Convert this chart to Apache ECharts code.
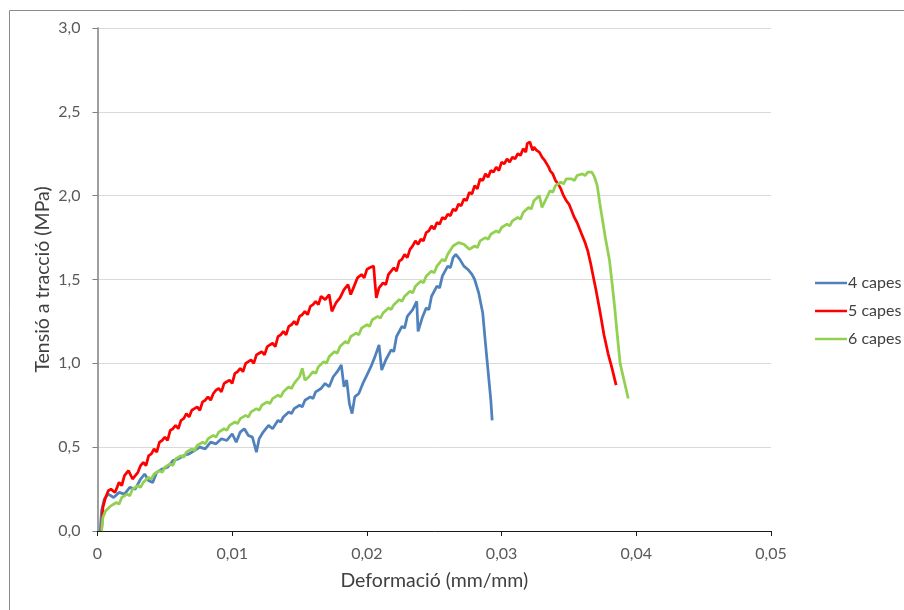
<!DOCTYPE html>
<html>
<head>
<meta charset="utf-8">
<script src="https://cdn.jsdelivr.net/npm/echarts@6/dist/echarts.min.js"></script>
<style>html,body{margin:0;padding:0;background:#fff}#c{width:904px;height:610px}</style>
</head>
<body>
<div id="c"></div>
<script>
const seriesNames = ['4 capes', '5 capes', '6 capes'];
const xTicks = [0, 0.01, 0.02, 0.03, 0.04, 0.05];
const yTicks = [0, 0.5, 1.0, 1.5, 2.0, 2.5, 3.0];

const capes4 = [[0.0002,0],[0.0003,0.12],[0.0005,0.19],[0.0008,0.22],[0.0012,0.2],[0.0016,0.23],[0.002,0.22],[0.0024,0.26],[0.0028,0.25],[0.0032,0.31],[0.0035,0.34],[0.0038,0.3],[0.0041,0.29],[0.0044,0.35],[0.0048,0.37],[0.0052,0.38],[0.0056,0.42],[0.006,0.43],[0.0064,0.45],[0.0068,0.46],[0.0072,0.48],[0.0076,0.5],[0.008,0.49],[0.0084,0.53],[0.0088,0.52],[0.0092,0.55],[0.0096,0.54],[0.01,0.58],[0.0103,0.53],[0.0106,0.59],[0.0109,0.61],[0.0112,0.57],[0.0115,0.56],[0.0118,0.47],[0.012,0.55],[0.0123,0.59],[0.0127,0.63],[0.013,0.61],[0.0134,0.66],[0.0136,0.65],[0.0138,0.68],[0.0142,0.71],[0.0144,0.7],[0.0146,0.73],[0.015,0.75],[0.0152,0.74],[0.0154,0.78],[0.0158,0.8],[0.016,0.79],[0.0162,0.83],[0.0166,0.85],[0.0169,0.88],[0.0172,0.86],[0.0175,0.92],[0.0178,0.95],[0.0181,0.99],[0.0183,0.86],[0.0185,0.9],[0.0187,0.76],[0.0189,0.7],[0.0191,0.8],[0.0194,0.82],[0.0197,0.88],[0.02,0.93],[0.0203,0.98],[0.0206,1.04],[0.0209,1.11],[0.0211,0.96],[0.0214,1.02],[0.0218,1.08],[0.022,1.07],[0.0222,1.16],[0.0226,1.22],[0.0228,1.21],[0.023,1.28],[0.0234,1.32],[0.0237,1.37],[0.0238,1.19],[0.0241,1.27],[0.0244,1.33],[0.0246,1.32],[0.0248,1.4],[0.0252,1.46],[0.0254,1.45],[0.0256,1.52],[0.026,1.58],[0.0262,1.57],[0.0264,1.63],[0.0266,1.65],[0.0269,1.62],[0.0272,1.58],[0.0275,1.56],[0.0278,1.53],[0.028,1.5],[0.0283,1.42],[0.0286,1.3],[0.0288,1.12],[0.029,0.95],[0.0292,0.78],[0.0293,0.66]];

const capes5 = [[0.0003,0],[0.0004,0.14],[0.0006,0.2],[0.0008,0.24],[0.001,0.25],[0.0013,0.23],[0.0016,0.29],[0.0018,0.27],[0.002,0.33],[0.0023,0.36],[0.0026,0.31],[0.003,0.35],[0.0032,0.39],[0.0034,0.41],[0.0036,0.39],[0.0038,0.45],[0.004,0.46],[0.0042,0.49],[0.0044,0.47],[0.0046,0.53],[0.0048,0.54],[0.005,0.56],[0.0052,0.54],[0.0054,0.6],[0.0056,0.61],[0.0058,0.63],[0.006,0.61],[0.0062,0.66],[0.0064,0.67],[0.0066,0.7],[0.0068,0.68],[0.007,0.72],[0.0072,0.73],[0.0074,0.74],[0.0076,0.72],[0.0078,0.77],[0.008,0.78],[0.0082,0.8],[0.0084,0.78],[0.0086,0.82],[0.0088,0.84],[0.009,0.85],[0.0092,0.83],[0.0094,0.88],[0.0096,0.89],[0.0098,0.9],[0.01,0.88],[0.0102,0.94],[0.0104,0.95],[0.0106,0.97],[0.0108,0.95],[0.011,1.0],[0.0112,1.01],[0.0114,1.02],[0.0116,1.0],[0.0118,1.05],[0.012,1.06],[0.0122,1.07],[0.0124,1.05],[0.0126,1.1],[0.0128,1.11],[0.013,1.12],[0.0132,1.1],[0.0134,1.16],[0.0136,1.17],[0.0138,1.19],[0.014,1.17],[0.0142,1.22],[0.0144,1.23],[0.0146,1.25],[0.0148,1.23],[0.015,1.28],[0.0152,1.29],[0.0154,1.31],[0.0156,1.29],[0.0158,1.34],[0.016,1.35],[0.0162,1.37],[0.0164,1.35],[0.0166,1.4],[0.0169,1.38],[0.0172,1.41],[0.0174,1.31],[0.0177,1.36],[0.018,1.39],[0.0183,1.44],[0.0186,1.47],[0.0188,1.41],[0.019,1.45],[0.0193,1.51],[0.0196,1.53],[0.0198,1.51],[0.02,1.56],[0.0202,1.57],[0.0205,1.58],[0.0206,1.48],[0.0207,1.39],[0.0209,1.45],[0.0212,1.48],[0.0214,1.47],[0.0216,1.53],[0.0218,1.55],[0.022,1.57],[0.0222,1.55],[0.0224,1.61],[0.0226,1.62],[0.0228,1.65],[0.023,1.63],[0.0232,1.68],[0.0234,1.7],[0.0236,1.73],[0.0238,1.71],[0.024,1.74],[0.0242,1.73],[0.0244,1.78],[0.0246,1.79],[0.0248,1.82],[0.025,1.8],[0.0252,1.84],[0.0254,1.83],[0.0256,1.87],[0.0258,1.86],[0.026,1.89],[0.0262,1.88],[0.0264,1.92],[0.0266,1.91],[0.0268,1.95],[0.027,1.94],[0.0272,1.98],[0.0274,1.97],[0.0276,2.02],[0.0278,2.01],[0.028,2.06],[0.0282,2.04],[0.0284,2.1],[0.0286,2.09],[0.0288,2.13],[0.029,2.11],[0.0292,2.15],[0.0294,2.14],[0.0296,2.17],[0.0298,2.15],[0.03,2.2],[0.0302,2.19],[0.0304,2.22],[0.0306,2.2],[0.0308,2.23],[0.031,2.22],[0.0312,2.25],[0.0314,2.24],[0.0316,2.28],[0.0318,2.26],[0.0319,2.31],[0.0321,2.32],[0.0323,2.27],[0.0324,2.29],[0.0326,2.27],[0.0328,2.26],[0.033,2.23],[0.0332,2.21],[0.0333,2.2],[0.0335,2.17],[0.0336,2.15],[0.0338,2.13],[0.034,2.09],[0.0342,2.07],[0.0344,2.04],[0.0346,2.0],[0.0348,1.97],[0.035,1.95],[0.0352,1.91],[0.0354,1.87],[0.0356,1.84],[0.0358,1.8],[0.036,1.76],[0.0362,1.72],[0.0364,1.67],[0.0366,1.6],[0.0367,1.56],[0.037,1.44],[0.0373,1.31],[0.0376,1.17],[0.0379,1.06],[0.0382,0.97],[0.0385,0.87]];

const capes6 = [[0.0003,0],[0.0004,0.08],[0.0006,0.12],[0.001,0.15],[0.0014,0.17],[0.0016,0.16],[0.0018,0.2],[0.0022,0.22],[0.0024,0.21],[0.0026,0.25],[0.003,0.27],[0.0032,0.26],[0.0034,0.29],[0.0038,0.32],[0.004,0.31],[0.0042,0.34],[0.0046,0.36],[0.0048,0.35],[0.005,0.38],[0.0054,0.4],[0.0056,0.39],[0.0058,0.43],[0.0062,0.45],[0.0064,0.44],[0.0066,0.47],[0.007,0.49],[0.0072,0.48],[0.0074,0.51],[0.0078,0.53],[0.008,0.52],[0.0082,0.55],[0.0086,0.57],[0.0088,0.56],[0.009,0.59],[0.0094,0.61],[0.0096,0.6],[0.0098,0.63],[0.0102,0.65],[0.0104,0.64],[0.0106,0.67],[0.011,0.69],[0.0112,0.68],[0.0114,0.71],[0.0118,0.73],[0.012,0.72],[0.0122,0.75],[0.0126,0.77],[0.0128,0.76],[0.013,0.79],[0.0134,0.81],[0.0136,0.8],[0.0138,0.83],[0.0142,0.86],[0.0144,0.85],[0.0146,0.88],[0.015,0.92],[0.0152,0.97],[0.0154,0.9],[0.0157,0.92],[0.016,0.95],[0.0162,0.94],[0.0164,0.98],[0.0168,1.01],[0.017,1.0],[0.0172,1.04],[0.0176,1.07],[0.0178,1.06],[0.018,1.1],[0.0184,1.13],[0.0186,1.12],[0.0188,1.16],[0.0192,1.18],[0.0194,1.17],[0.0196,1.21],[0.02,1.23],[0.0202,1.22],[0.0204,1.26],[0.0208,1.28],[0.021,1.27],[0.0212,1.3],[0.0216,1.33],[0.0218,1.32],[0.022,1.35],[0.0224,1.38],[0.0226,1.37],[0.0228,1.4],[0.0232,1.43],[0.0234,1.42],[0.0236,1.46],[0.024,1.49],[0.0242,1.48],[0.0244,1.52],[0.0248,1.55],[0.025,1.54],[0.0252,1.58],[0.0256,1.62],[0.0258,1.61],[0.026,1.65],[0.0264,1.7],[0.0268,1.72],[0.0272,1.71],[0.0276,1.68],[0.028,1.7],[0.0282,1.69],[0.0284,1.73],[0.0288,1.75],[0.029,1.74],[0.0292,1.77],[0.0296,1.79],[0.0298,1.78],[0.03,1.81],[0.0304,1.83],[0.0306,1.82],[0.0308,1.85],[0.0312,1.87],[0.0314,1.86],[0.0316,1.9],[0.032,1.93],[0.0322,1.92],[0.0324,1.97],[0.0328,2.0],[0.033,1.93],[0.0333,1.98],[0.0336,2.03],[0.0338,2.02],[0.034,2.06],[0.0344,2.08],[0.0346,2.07],[0.0348,2.1],[0.0352,2.1],[0.0354,2.09],[0.0356,2.12],[0.036,2.13],[0.0362,2.12],[0.0364,2.14],[0.0367,2.14],[0.0369,2.11],[0.0371,2.06],[0.0373,1.95],[0.0375,1.85],[0.0377,1.75],[0.038,1.62],[0.0382,1.48],[0.0384,1.33],[0.0386,1.16],[0.0388,1.0],[0.039,0.93],[0.0392,0.86],[0.0394,0.79]];

const colors = ['#4F81BD', '#FF0000', '#92D050'];
const FONT = 'Lato, "Open Sans", sans-serif';

const chart = echarts.init(document.getElementById('c'), null, {renderer: 'canvas'});
const mk = (name, data, color) => ({
  name, type: 'line', data, showSymbol: false, symbol: 'none',
  lineStyle: {color, width: 2.75}, itemStyle: {color}, animation: false
});
chart.setOption({
  animation: false,
  backgroundColor: '#fff',
  graphic: [{type: 'rect', shape: {x: 9.5, y: 10.5, width: 1000, height: 1000},
    style: {fill: 'none', stroke: '#8C8C8C', lineWidth: 1}, silent: true}],
  grid: {left: 97.5, right: 133, top: 28, bottom: 79, containLabel: false},
  legend: {
    orient: 'vertical', left: 810, top: 270, itemGap: 12,
    icon: 'rect', itemWidth: 32, itemHeight: 2.5,
    textStyle: {fontFamily: FONT, fontSize: 16, color: '#404040', padding: [0, 0, 0, -4]},
    data: seriesNames
  },
  xAxis: {
    type: 'value', min: 0, max: 0.05, interval: 0.01,
    name: 'Deformació (mm/mm)', nameLocation: 'middle', nameGap: 40,
    nameTextStyle: {fontFamily: FONT, fontSize: 19.5, color: '#404040'},
    axisLine: {show: true, lineStyle: {color: '#1a1a1a', width: 1}},
    axisTick: {show: true, inside: false, length: 5, lineStyle: {color: '#1a1a1a'}},
    axisLabel: {fontFamily: FONT, fontSize: 16, color: '#595959', margin: 15,
      formatter: v => v === 0 ? '0' : v.toFixed(2).replace('.', ',')},
    splitLine: {show: false}
  },
  yAxis: {
    type: 'value', min: 0, max: 3, interval: 0.5,
    name: 'Tensió a tracció (MPa)', nameLocation: 'middle', nameGap: 45,
    nameMoveOverlap: false,
    nameTextStyle: {fontFamily: FONT, fontSize: 19.5, color: '#404040'},
    axisLine: {show: true, lineStyle: {color: '#7F7F7F', width: 1.5}},
    axisTick: {show: true, inside: false, length: 5, lineStyle: {color: '#7F7F7F'}},
    axisLabel: {fontFamily: FONT, fontSize: 16, color: '#595959', margin: 17,
      formatter: v => v.toFixed(1).replace('.', ',')},
    splitLine: {show: true, lineStyle: {color: '#D9D9D9', width: 1}}
  },
  series: [mk(seriesNames[0], capes4, colors[0]), mk(seriesNames[1], capes5, colors[1]), mk(seriesNames[2], capes6, colors[2])]
});
</script>
</body>
</html>
